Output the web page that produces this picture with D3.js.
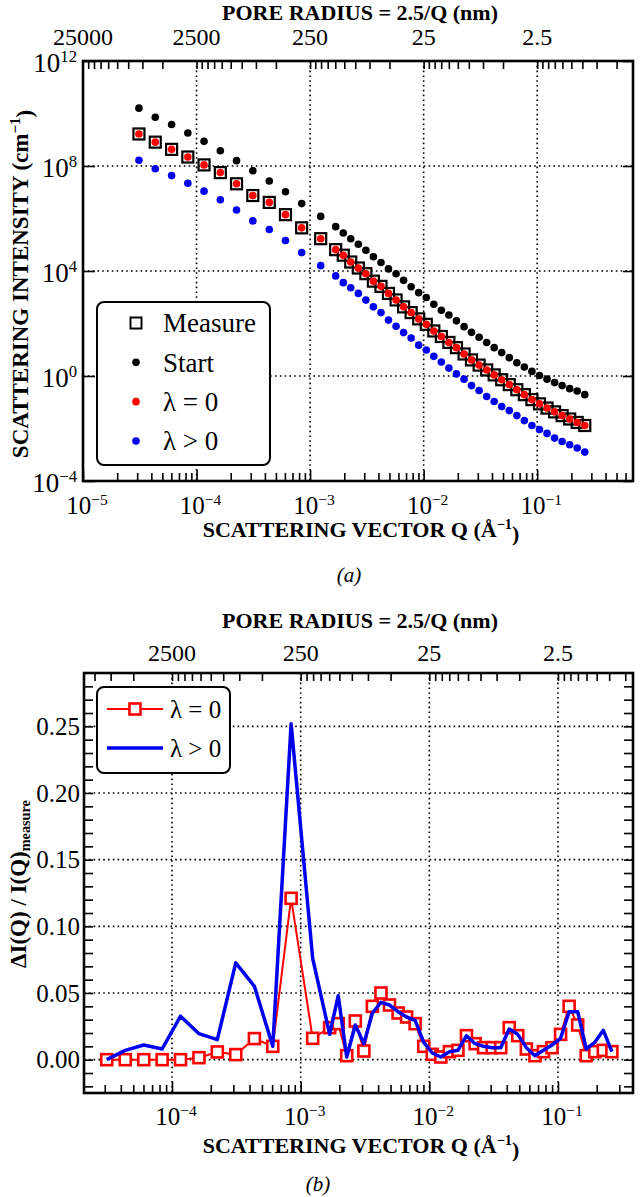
<!DOCTYPE html>
<html>
<head>
<meta charset="utf-8">
<script src="https://cdn.jsdelivr.net/npm/d3@7"></script>
<style>
  body { margin: 0; background: #fff; }
  svg { display: block; }
  svg text { font-family: "Liberation Serif", "DejaVu Serif", serif; }
</style>
</head>
<body>
<svg width="640" height="1197" font-family="Liberation Serif, DejaVu Serif, serif"></svg>
<script>
// scattering vector Q (1/Å)
const q = [3.11e-5, 4.33e-5, 6.03e-5, 8.38e-5, 1.164e-4, 1.62e-4, 2.25e-4, 3.13e-4, 4.37e-4, 6.07e-4, 8.43e-4, 1.24e-3,
  1.68e-3, 1.96e-3, 2.28e-3, 2.66e-3, 3.10e-3, 3.61e-3, 4.21e-3, 4.90e-3, 5.72e-3, 6.66e-3, 7.76e-3, 9.05e-3,
  1.055e-2, 1.229e-2, 1.432e-2, 1.669e-2, 1.945e-2, 2.27e-2, 2.64e-2, 3.08e-2, 3.59e-2, 4.18e-2, 4.87e-2, 5.68e-2,
  6.62e-2, 7.71e-2, 8.99e-2, 0.1048, 0.1221, 0.1423, 0.1658, 0.1933, 0.2252, 0.2625];

// intensities (1/cm)
const measure = [1.66e9, 8.1e8, 4.3e8, 2.2e8, 1.1e8, 5.6e7, 2.1e7, 7.5e6, 4.1e6, 1.4e6, 4.4e5, 1.7e5,
  6.5e4, 4.0e4, 2.2e4, 1.3e4, 7.9e3, 4.1e3, 2.6e3, 1.4e3, 790, 430, 260, 150, 93, 52, 32, 19, 12, 6.9, 4.1, 2.6,
  1.7, 1.1, 0.72, 0.47, 0.30, 0.195, 0.126, 0.087, 0.060, 0.043, 0.031, 0.023, 0.017, 0.013];
const start = [1.6e10, 7.2e9, 3.8e9, 1.8e9, 8.7e8, 3.8e8, 1.6e8, 6.6e7, 2.7e7, 1.05e7, 3.7e6, 1.2e6,
  4.9e5, 2.8e5, 1.7e5, 1.05e5, 6.2e4, 3.5e4, 2.1e4, 1.2e4, 7.9e3, 4.4e3, 2.5e3, 1.5e3, 980, 540, 320, 210, 126, 76,
  46, 30, 19, 12, 7.8, 5.0, 3.2, 2.2, 1.5, 1.05, 0.76, 0.56, 0.43, 0.33, 0.27, 0.195];
const fitZero = [1.66e9, 8.1e8, 4.3e8, 2.2e8, 1.1e8, 5.6e7, 2.1e7, 7.5e6, 4.1e6, 1.4e6, 4.4e5, 1.7e5,
  6.5e4, 4.0e4, 2.2e4, 1.3e4, 7.9e3, 4.1e3, 2.6e3, 1.4e3, 790, 430, 260, 150, 93, 52, 32, 19, 12, 6.9, 4.1, 2.6,
  1.7, 1.1, 0.72, 0.47, 0.30, 0.195, 0.126, 0.087, 0.060, 0.043, 0.031, 0.023, 0.017, 0.013];
const fitPositive = [1.66e8, 7.9e7, 4.3e7, 2.2e7, 1.1e7, 5.2e6, 2.1e6, 8.1e5, 3.8e5, 1.45e5, 5.0e4, 1.6e4,
  6.5e3, 3.6e3, 2.3e3, 1.4e3, 780, 430, 260, 135, 79, 45, 28, 15, 9.8, 5.6, 3.4, 2.0, 1.2, 0.76, 0.43, 0.28,
  0.166, 0.107, 0.069, 0.048, 0.031, 0.020, 0.013, 0.0091, 0.0065, 0.0043, 0.0032, 0.0024, 0.0018, 0.00126];

// relative error ΔI/I
const errZero = [0, 0, 0, 0, 0, 0.0015, 0.0058, 0.0038, 0.0158, 0.010, 0.121, 0.016,
  0.024, 0.027, 0.003, 0.029, 0.0065, 0.040, 0.050, 0.041, 0.035, 0.032, 0.027, 0.010, 0.004, 0.002, 0.006, 0.007,
  0.018, 0.012, 0.009, 0.009, 0.009, 0.024, 0.018, 0.008, 0.003, 0.006, 0.009, 0.019, 0.040, 0.026, 0.003, 0.006,
  0.007, 0.006];
const errPositive = [0, 0.007, 0.011, 0.008, 0.0326, 0.0195, 0.015, 0.0726, 0.055, 0.010, 0.252, 0.076,
  0.019, 0.048, 0.002, 0.026, 0.012, 0.035, 0.043, 0.041, 0.036, 0.032, 0.0295, 0.013, 0.005, 0.002, 0.006, 0.007,
  0.018, 0.012, 0.010, 0.009, 0.009, 0.023, 0.019, 0.009, 0.003, 0.007, 0.011, 0.016, 0.036, 0.036, 0.008, 0.013,
  0.022, 0.006];

// ticks and labels
const qMajor = [1e-5, 1e-4, 1e-3, 1e-2, 1e-1];
const qExponents = [-5, -4, -3, -2, -1];
const intensityMajor = [1e12, 1e8, 1e4, 1e0, 1e-4];
const intensityExponents = [12, 8, 4, 0, -4];
const radiusMajor = [25000, 2500, 250, 25, 2.5];
const radiusLabels = ["25000", "2500", "250", "25", "2.5"];
const errMajor = [0, 0.05, 0.1, 0.15, 0.2, 0.25];
const legendA = ["Measure", "Start", "λ = 0", "λ > 0"];
const legendB = ["λ = 0", "λ > 0"];

const FONT = "Liberation Serif, DejaVu Serif, serif";
const svg = d3.select("svg");
const MINUS = "\u2212";

function sup(text, exp) {
  text.text("10");
  text.append("tspan").attr("dy", "-0.6em").attr("font-size", "0.62em")
    .text(exp < 0 ? MINUS + -exp : exp);
}

function styleAxis(g) {
  g.attr("font-family", FONT);
  g.select(".domain").remove();
  g.selectAll("line").attr("stroke", "#000").attr("stroke-width", 1.6);
  g.selectAll("text").remove();
}

function radiusTicks(lo, hi) {
  const out = [];
  [25000, 2500, 250, 25, 2.5, 0.25].forEach((r) => {
    for (let n = 1; n <= 9; n++) {
      const v = r * n;
      if (v >= lo && v <= hi) out.push(v);
    }
  });
  return out;
}

function panel(box, x, y) {
  const g = svg.append("g").attr("font-family", FONT);
  const r = d3.scaleLog()
    .domain([0.25 / x.domain()[0], 0.25 / x.domain()[1]])
    .range(x.range());

  // grid
  g.append("g").selectAll("line")
    .data(qMajor.filter((d) => x(d) > box.left + 2))
    .join("line")
    .attr("x1", (d) => x(d)).attr("x2", (d) => x(d))
    .attr("y1", box.top).attr("y2", box.bottom)
    .attr("stroke", "#000").attr("stroke-width", 1.6)
    .attr("stroke-dasharray", "1.6,3.2");

  // bottom axis
  const minorQ = x.ticks().filter((d) => !qMajor.includes(d));
  g.append("g").attr("transform", `translate(0,${box.bottom})`)
    .call(d3.axisBottom(x).tickValues(minorQ).tickSize(-8).tickSizeOuter(0))
    .call(styleAxis);
  g.append("g").attr("transform", `translate(0,${box.bottom})`)
    .call(d3.axisBottom(x).tickValues(qMajor.filter((d) => d >= x.domain()[0])).tickSize(-11).tickSizeOuter(0))
    .call(styleAxis);

  // top axis (pore radius)
  const [rHi, rLo] = r.domain();
  g.append("g").attr("transform", `translate(0,${box.top})`)
    .call(d3.axisTop(r).tickValues(radiusTicks(rLo, rHi)).tickSize(-8).tickSizeOuter(0))
    .call(styleAxis);

  g.append("g").selectAll("text")
    .data(radiusMajor.filter((d) => d <= rHi * 1.001))
    .join("text")
    .attr("x", (d) => r(d))
    .attr("y", box.labelTop)
    .attr("text-anchor", "middle")
    .attr("font-size", 24)
    .text((d) => radiusLabels[radiusMajor.indexOf(d)]);

  g.append("g").selectAll("text")
    .data(qMajor.filter((d) => d >= x.domain()[0]))
    .join("text")
    .attr("x", (d) => x(d) + 4)
    .attr("y", box.labelBottom)
    .attr("text-anchor", "middle")
    .attr("font-size", 25)
    .each(function (d) {
      sup(d3.select(this), qExponents[qMajor.indexOf(d)]);
    });

  g.append("text")
    .attr("x", 360).attr("y", box.titleTop)
    .attr("text-anchor", "middle")
    .attr("font-size", 22).attr("font-weight", "bold")
    .text("PORE RADIUS = 2.5/Q (nm)");

  const xt = g.append("text")
    .attr("x", 361).attr("y", box.titleBottom)
    .attr("text-anchor", "middle")
    .attr("font-size", 22).attr("font-weight", "bold")
    .text("SCATTERING VECTOR Q (Å");
  xt.append("tspan").attr("dy", "-0.55em").attr("font-size", "0.65em").text(MINUS + "1");
  xt.append("tspan").attr("dy", "0.55em").text(")");

  return g;
}

function frame(g, box) {
  g.append("rect")
    .attr("x", box.left).attr("y", box.top)
    .attr("width", box.right - box.left).attr("height", box.bottom - box.top)
    .attr("fill", "none").attr("stroke", "#000").attr("stroke-width", 2.6);
}

// ---------- panel (a) ----------
const boxA = { left: 83, right: 633, top: 61, bottom: 481, labelTop: 45, labelBottom: 514, titleTop: 20, titleBottom: 537 };
const xA = d3.scaleLog().domain([1e-5, 0.698]).range([boxA.left, boxA.right]);
const yA = d3.scaleLog().domain([1e-4, 1e12]).range([boxA.bottom, boxA.top]);
const gA = panel(boxA, xA, yA);

gA.append("g").selectAll("line")
  .data([1e8, 1e4, 1e0])
  .join("line")
  .attr("x1", boxA.left).attr("x2", boxA.right)
  .attr("y1", (d) => yA(d)).attr("y2", (d) => yA(d))
  .attr("stroke", "#000").attr("stroke-width", 1.6)
  .attr("stroke-dasharray", "1.6,3.2");

gA.append("g").attr("transform", `translate(${boxA.left},0)`)
  .call(d3.axisLeft(yA).tickValues(intensityMajor).tickSize(-12).tickSizeOuter(0))
  .call(styleAxis);
gA.append("g").attr("transform", `translate(${boxA.right},0)`)
  .call(d3.axisRight(yA).tickValues(intensityMajor).tickSize(-10).tickSizeOuter(0))
  .call(styleAxis);

gA.append("g").selectAll("text")
  .data(intensityMajor)
  .join("text")
  .attr("x", 77)
  .attr("y", (d) => yA(d) + 2)
  .attr("dy", "0.35em")
  .attr("text-anchor", "end")
  .attr("font-size", 27)
  .each(function (d, i) {
    sup(d3.select(this), intensityExponents[i]);
  });

const ytA = gA.append("text")
  .attr("transform", "translate(28,284) rotate(-90)")
  .attr("text-anchor", "middle")
  .attr("font-size", 23).attr("font-weight", "bold")
  .text("SCATTERING INTENSITY (cm");
ytA.append("tspan").attr("dy", "-0.55em").attr("font-size", "0.65em").text(MINUS + "1");
ytA.append("tspan").attr("dy", "0.55em").text(")");

const ptsA = q.map((d, i) => ({ q: d, m: measure[i], s: start[i], z: fitZero[i], p: fitPositive[i] }));
const sq = 11;
gA.append("g").selectAll("rect")
  .data(ptsA)
  .join("rect")
  .attr("x", (d) => xA(d.q) - sq / 2)
  .attr("y", (d) => yA(d.m) - sq / 2)
  .attr("width", sq).attr("height", sq)
  .attr("fill", "none").attr("stroke", "#000").attr("stroke-width", 2.2);

[["s", "#000"], ["z", "#f00"], ["p", "#0000f0"]].forEach(([key, color]) => {
  gA.append("g").selectAll("circle")
    .data(ptsA)
    .join("circle")
    .attr("cx", (d) => xA(d.q))
    .attr("cy", (d) => yA(d[key]))
    .attr("r", 3.8)
    .attr("fill", color);
});

frame(gA, boxA);

// legend (a)
const legA = gA.append("g");
legA.append("rect")
  .attr("x", 97).attr("y", 302).attr("width", 173).attr("height", 163).attr("rx", 7)
  .attr("fill", "#fff").attr("stroke", "#000").attr("stroke-width", 2);
const legAy = d3.scalePoint().domain(legendA).range([323, 441]);
legA.append("rect")
  .attr("x", 136 - 5.5).attr("y", legAy("Measure") - 5.5).attr("width", 11).attr("height", 11)
  .attr("fill", "none").attr("stroke", "#000").attr("stroke-width", 2);
[["Start", "#000"], ["λ = 0", "#f00"], ["λ > 0", "#0000f0"]].forEach(([name, color]) => {
  legA.append("circle").attr("cx", 136).attr("cy", legAy(name)).attr("r", 3.8).attr("fill", color);
});
legA.selectAll("text.lab")
  .data(legendA)
  .join("text")
  .attr("class", "lab")
  .attr("x", 163).attr("y", (d) => legAy(d)).attr("dy", "0.34em")
  .attr("font-size", 27)
  .text((d) => d);

svg.append("text")
  .attr("x", 349).attr("y", 582)
  .attr("text-anchor", "middle").attr("font-size", 21).attr("font-style", "italic")
  .text("(a)");

// ---------- panel (b) ----------
const boxB = { left: 84, right: 633, top: 673, bottom: 1093, labelTop: 661, labelBottom: 1125, titleTop: 628, titleBottom: 1153 };
const xB = d3.scaleLog().domain([2.07e-5, 0.383]).range([boxB.left, boxB.right]);
const yB = d3.scaleLinear().domain([-0.025, 0.29]).range([boxB.bottom, boxB.top]);
const gB = panel(boxB, xB, yB);

gB.append("g").selectAll("line")
  .data(errMajor)
  .join("line")
  .attr("x1", boxB.left).attr("x2", boxB.right)
  .attr("y1", (d) => yB(d)).attr("y2", (d) => yB(d))
  .attr("stroke", "#000").attr("stroke-width", 1.6)
  .attr("stroke-dasharray", "1.6,3.2");

const errTicks = d3.range(-2, 29).map((d) => d / 100);
gB.append("g").attr("transform", `translate(${boxB.left},0)`)
  .call(d3.axisLeft(yB).tickValues(errTicks).tickSize(-9).tickSizeOuter(0))
  .call(styleAxis);
gB.append("g").attr("transform", `translate(${boxB.right},0)`)
  .call(d3.axisRight(yB).tickValues(errTicks).tickSize(-9).tickSizeOuter(0))
  .call(styleAxis);

gB.append("g").selectAll("text")
  .data(errMajor)
  .join("text")
  .attr("x", 80)
  .attr("y", (d) => yB(d))
  .attr("dy", "0.35em")
  .attr("text-anchor", "end")
  .attr("font-size", 25)
  .text((d) => d3.format(".2f")(d));

const ytB = gB.append("text")
  .attr("transform", "translate(26,884) rotate(-90)")
  .attr("text-anchor", "middle")
  .attr("font-size", 23).attr("font-weight", "bold")
  .text("ΔI(Q) / I(Q)");
ytB.append("tspan").attr("dy", "0.3em").attr("font-size", "0.62em").text("measure");

const ptsB = q.map((d, i) => ({ q: d, z: errZero[i], p: errPositive[i] }));
const line = (key) => d3.line().x((d) => xB(d.q)).y((d) => yB(d[key]));

gB.append("path")
  .datum(ptsB)
  .attr("d", line("z"))
  .attr("fill", "none").attr("stroke", "#f00").attr("stroke-width", 2);
gB.append("g").selectAll("rect")
  .data(ptsB)
  .join("rect")
  .attr("x", (d) => xB(d.q) - 5.5)
  .attr("y", (d) => yB(d.z) - 5.5)
  .attr("width", 11).attr("height", 11)
  .attr("fill", "#fff").attr("stroke", "#f00").attr("stroke-width", 2.6);
gB.append("path")
  .datum(ptsB)
  .attr("d", line("p"))
  .attr("fill", "none").attr("stroke", "#0000f0").attr("stroke-width", 3.5)
  .attr("stroke-linejoin", "round");

frame(gB, boxB);

// legend (b)
const legB = gB.append("g");
legB.append("rect")
  .attr("x", 97).attr("y", 687).attr("width", 133).attr("height", 86).attr("rx", 7)
  .attr("fill", "#fff").attr("stroke", "#000").attr("stroke-width", 2);
const legBy = d3.scalePoint().domain(legendB).range([709, 748]);
legB.append("line")
  .attr("x1", 107).attr("x2", 163).attr("y1", legBy("λ = 0")).attr("y2", legBy("λ = 0"))
  .attr("stroke", "#f00").attr("stroke-width", 2);
legB.append("rect")
  .attr("x", 135 - 5.5).attr("y", legBy("λ = 0") - 5.5).attr("width", 11).attr("height", 11)
  .attr("fill", "#fff").attr("stroke", "#f00").attr("stroke-width", 2.6);
legB.append("line")
  .attr("x1", 107).attr("x2", 163).attr("y1", legBy("λ > 0")).attr("y2", legBy("λ > 0"))
  .attr("stroke", "#0000f0").attr("stroke-width", 3.5);
legB.selectAll("text.lab")
  .data(legendB)
  .join("text")
  .attr("class", "lab")
  .attr("x", 170).attr("y", (d) => legBy(d)).attr("dy", "0.34em")
  .attr("font-size", 25)
  .text((d) => d);

svg.append("text")
  .attr("x", 318).attr("y", 1191)
  .attr("text-anchor", "middle").attr("font-size", 21).attr("font-style", "italic")
  .text("(b)");
</script>
</body>
</html>
